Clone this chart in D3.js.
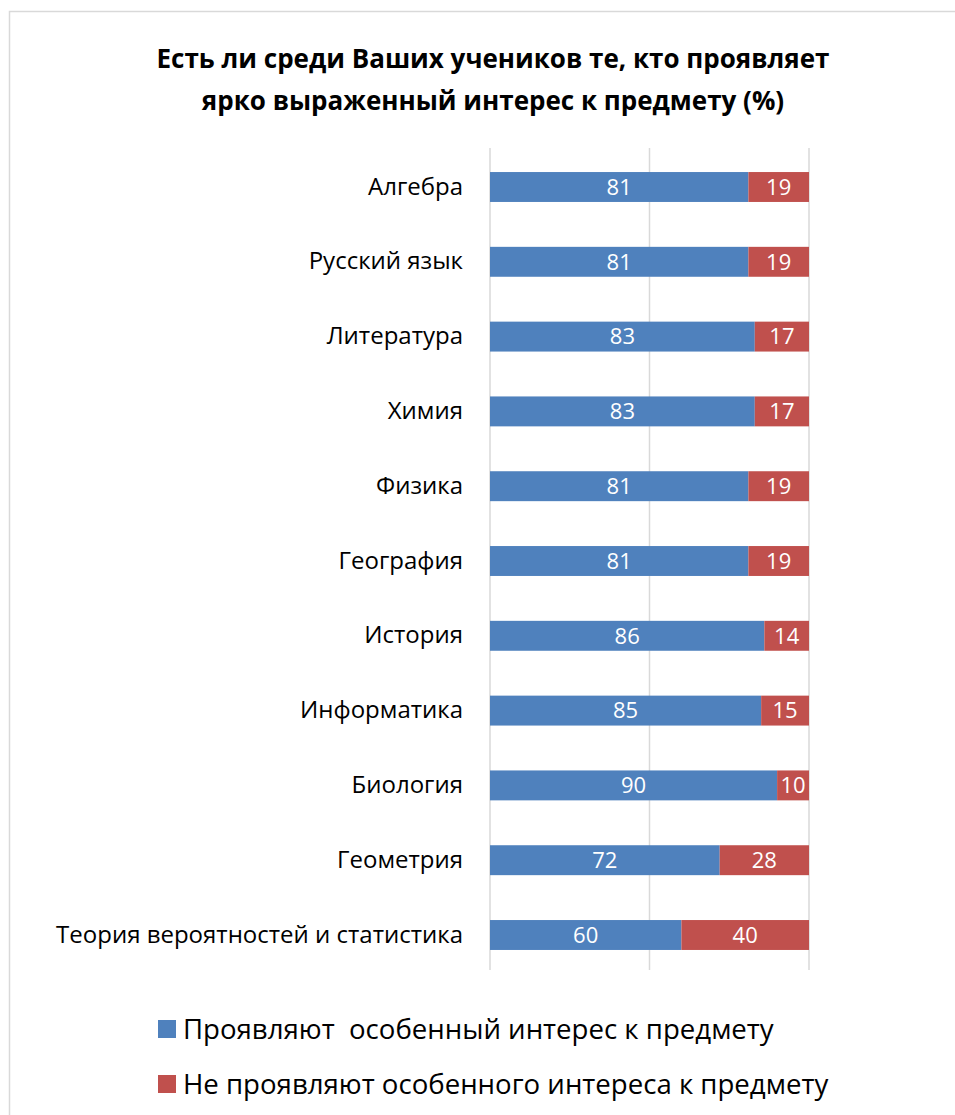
<!DOCTYPE html>
<html>
<head>
<meta charset="utf-8">
<script src="https://cdn.jsdelivr.net/npm/d3@7"></script>
<style>
  body { margin: 0; background: #fff; }
  text { font-family: "Open Sans", "Noto Sans", sans-serif; }
</style>
</head>
<body>
<div id="chart"></div>
<script>
// ---------- Data ---------- //
var subjects = ["Алгебра", "Русский язык", "Литература", "Химия", "Физика", "География",
                "История", "Информатика", "Биология", "Геометрия", "Теория вероятностей и статистика"];
var interested = [81, 81, 83, 83, 81, 81, 86, 85, 90, 72, 60];
var notInterested = [19, 19, 17, 17, 19, 19, 14, 15, 10, 28, 40];
var seriesNames = ["Проявляют  особенный интерес к предмету", "Не проявляют особенного интереса к предмету"];
var xTicks = [0, 50, 100];
var titleLines = ["Есть ли среди Ваших учеников те, кто проявляет", "ярко выраженный интерес к предмету (%)"];

var width = 955, height = 1115;
var margin = { top: 149.6, right: 146, bottom: 142.6, left: 490 };
var colors = ["#4F81BD", "#C0504D"];

var svg = d3.select("#chart").append("svg")
  .attr("width", width)
  .attr("height", height);

// chart border
svg.append("rect")
  .attr("x", 9.5).attr("y", 11.5)
  .attr("width", 960).attr("height", 1120)
  .attr("fill", "none")
  .attr("stroke", "#d9d9d9")
  .attr("stroke-width", 1.5);

var x = d3.scaleLinear()
  .domain([0, 100])
  .range([margin.left, width - margin.right]);

var y = d3.scaleBand()
  .domain(subjects)
  .range([margin.top, height - margin.bottom])
  .paddingInner(0.6)
  .paddingOuter(0.3);

// gridlines
svg.append("g")
  .selectAll("line")
  .data(xTicks)
  .join("line")
  .attr("x1", d => x(d))
  .attr("x2", d => x(d))
  .attr("y1", 148)
  .attr("y2", 970)
  .attr("stroke", "#d9d9d9")
  .attr("stroke-width", 1.5);

// category axis
var yAxis = g => g
  .attr("transform", `translate(${margin.left},0)`)
  .call(d3.axisLeft(y).tickSize(0).tickPadding(27))
  .call(g => g.select(".domain").remove())
  .call(g => g.selectAll("text")
              .attr("font-size", 24)
              .attr("fill", "#000")
              .style("font-family", "'Open Sans', sans-serif"));
svg.append("g").call(yAxis);

var rows = subjects.map((s, i) => ({ name: s, vals: [interested[i], notInterested[i]] }));

var segs = [];
rows.forEach(r => {
  var start = 0;
  r.vals.forEach((v, k) => {
    segs.push({ name: r.name, k: k, x0: start, x1: start + v, v: v });
    start += v;
  });
});

svg.append("g")
  .selectAll("rect")
  .data(segs)
  .join("rect")
  .attr("x", d => x(d.x0))
  .attr("width", d => x(d.x1) - x(d.x0))
  .attr("y", d => y(d.name))
  .attr("height", y.bandwidth())
  .attr("fill", d => colors[d.k]);

svg.append("g")
  .attr("font-size", 22)
  .attr("fill", "#fff")
  .attr("text-anchor", "middle")
  .selectAll("text")
  .data(segs)
  .join("text")
  .attr("x", d => (x(d.x0) + x(d.x1)) / 2)
  .attr("y", d => y(d.name) + y.bandwidth() / 2)
  .attr("dy", "0.35em")
  .text(d => d.v);

// title
svg.append("g")
  .attr("font-size", 26)
  .attr("font-weight", "bold")
  .attr("text-anchor", "middle")
  .selectAll("text")
  .data(titleLines)
  .join("text")
  .attr("x", 493)
  .attr("y", (d, i) => 68 + i * 42)
  .text(d => d);

// legend
var legend = svg.append("g")
  .selectAll("g")
  .data(seriesNames)
  .join("g")
  .attr("transform", (d, i) => `translate(158,${1020 + i * 55})`);

legend.append("rect")
  .attr("width", 18)
  .attr("height", 18)
  .attr("fill", (d, i) => colors[i]);

legend.append("text")
  .attr("x", 25)
  .attr("y", 9)
  .attr("dy", "0.35em")
  .attr("font-size", 27.6)
  .style("white-space", "pre")
  .text(d => d);
</script>
</body>
</html>
